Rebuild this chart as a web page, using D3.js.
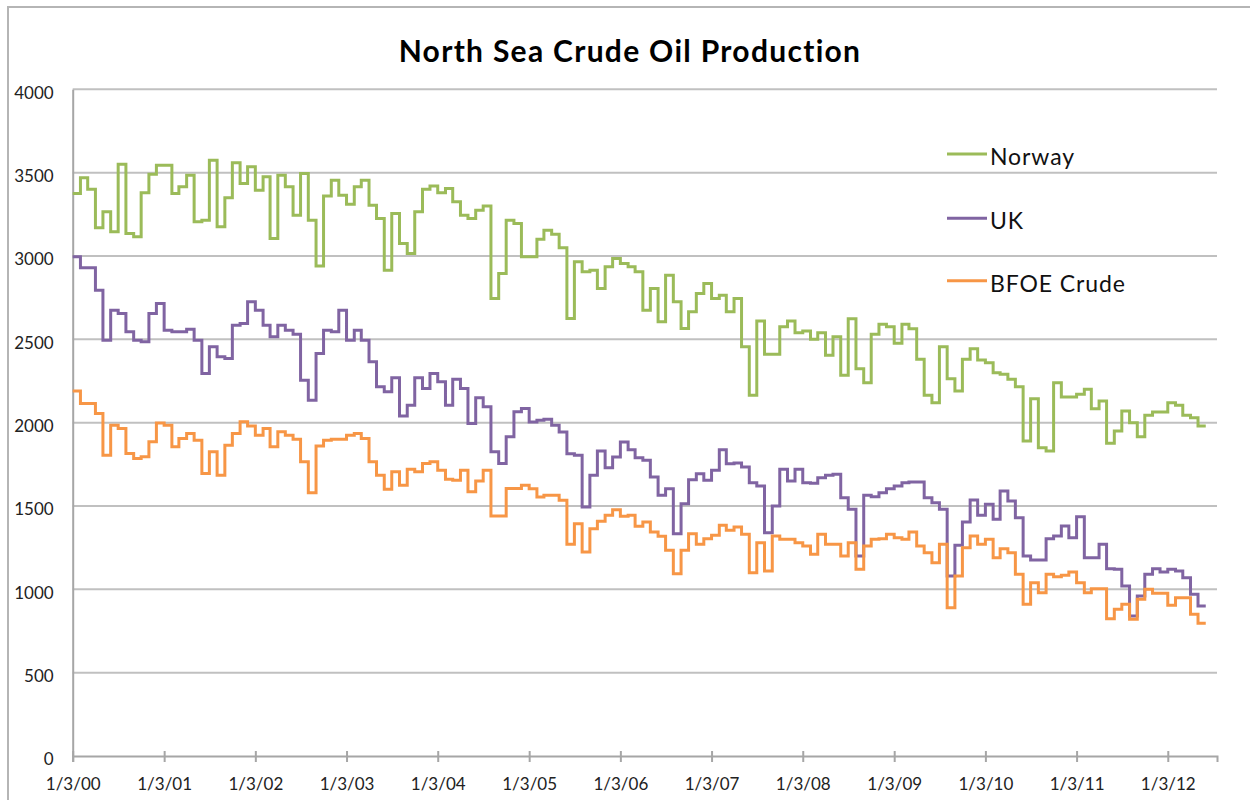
<!DOCTYPE html>
<html>
<head>
<meta charset="utf-8">
<script src="https://cdn.jsdelivr.net/npm/d3@7"></script>
<style>
  html, body { margin: 0; padding: 0; background: #fff; }
  svg { display: block; }
  text { font-family: Lato, "Open Sans", sans-serif; }
</style>
</head>
<body>
<svg id="chart" width="1250" height="800"></svg>
<script>
// ---- data (monthly, starting January 2000) ----
const startYear = 2000;
const seriesNames = ["Norway", "UK", "BFOE Crude"];
const seriesColors = ["#9bbb59", "#8064a2", "#f79646"];

const norway = [
  3375, 3470, 3400, 3170, 3265, 3145, 3550, 3135, 3115, 3380, 3490, 3545,
  3545, 3375, 3415, 3485, 3205, 3215, 3575, 3175, 3350, 3560, 3435, 3535,
  3395, 3475, 3105, 3485, 3415, 3245, 3495, 3215, 2940, 3360, 3455, 3365,
  3310, 3415, 3455, 3305, 3225, 2915, 3255, 3075, 3015, 3265, 3400, 3420,
  3380, 3405, 3325, 3245, 3225, 3275, 3300, 2745, 2895, 3215, 3195, 2995,
  2995, 3100, 3155, 3130, 3050, 2625, 2965, 2905, 2915, 2805, 2935, 2985,
  2955, 2935, 2905, 2675, 2805, 2605, 2885, 2725, 2565, 2665, 2775, 2835,
  2745, 2765, 2665, 2745, 2455, 2165, 2610, 2410, 2410, 2576, 2610, 2540,
  2550, 2500, 2540, 2404, 2516, 2284, 2624, 2324, 2240, 2530, 2590, 2576,
  2476, 2590, 2564, 2380, 2164, 2120, 2456, 2264, 2190, 2380, 2444, 2376,
  2360, 2300, 2290, 2260, 2216, 1890, 2144, 1850, 1830, 2240, 2154, 2154,
  2170, 2200, 2084, 2130, 1876, 1950, 2070, 2000, 1916, 2044, 2064, 2064,
  2120, 2104, 2044, 2030, 1980
];

const uk = [
  2995, 2930, 2930, 2795, 2495, 2675, 2655, 2545, 2495, 2485, 2655, 2715,
  2555, 2545, 2545, 2560, 2495, 2295, 2455, 2395, 2385, 2585, 2595, 2725,
  2675, 2585, 2515, 2585, 2555, 2530, 2255, 2135, 2415, 2555, 2545, 2675,
  2495, 2555, 2495, 2365, 2215, 2185, 2270, 2040, 2105, 2270, 2205, 2295,
  2245, 2105, 2260, 2205, 1995, 2150, 2095, 1825, 1755, 1915, 2065, 2085,
  2004, 2014, 2020, 1984, 1944, 1814, 1804, 1494, 1684, 1830, 1730, 1794,
  1884, 1838, 1790, 1774, 1674, 1564, 1604, 1334, 1514, 1658, 1694, 1654,
  1714, 1838, 1754, 1758, 1734, 1640, 1620, 1340, 1500, 1720, 1650, 1720,
  1640, 1636, 1670, 1684, 1690, 1550, 1480, 1200, 1564, 1556, 1580, 1604,
  1620, 1640, 1644, 1644, 1550, 1520, 1480, 1080, 1264, 1404, 1536, 1444,
  1510, 1420, 1590, 1530, 1430, 1200, 1176, 1176, 1304, 1320, 1380, 1310,
  1436, 1190, 1190, 1270, 1124, 1120, 1020, 840, 960, 1090, 1124, 1104,
  1120, 1110, 1070, 970, 900
];

const bfoe = [
  2190, 2115, 2115, 2055, 1805, 1985, 1965, 1815, 1785, 1795, 1885, 1998,
  1985, 1855, 1905, 1935, 1895, 1695, 1825, 1685, 1865, 1935, 2005, 1980,
  1925, 1965, 1855, 1945, 1925, 1900, 1765, 1580, 1860, 1895, 1900, 1900,
  1925, 1935, 1905, 1765, 1685, 1600, 1705, 1625, 1720, 1705, 1755, 1765,
  1715, 1660, 1655, 1715, 1585, 1650, 1715, 1440, 1440, 1605, 1605, 1625,
  1604, 1554, 1564, 1564, 1534, 1270, 1394, 1224, 1364, 1408, 1444, 1478,
  1438, 1444, 1378, 1404, 1344, 1318, 1234, 1094, 1234, 1334, 1270, 1304,
  1324, 1384, 1354, 1374, 1330, 1100, 1280, 1110, 1320, 1300, 1300, 1280,
  1260, 1210, 1330, 1270, 1270, 1200, 1280, 1120, 1260, 1300, 1304, 1330,
  1310, 1300, 1344, 1260, 1220, 1160, 1270, 890, 1080, 1250, 1320, 1270,
  1300, 1190, 1244, 1220, 1090, 910, 1040, 980, 1090, 1076, 1084, 1104,
  1040, 980, 1004, 1004, 824, 880, 910, 820, 940, 1000, 976, 976,
  904, 950, 950, 850, 796
];

const yTicks = [0, 500, 1000, 1500, 2000, 2500, 3000, 3500, 4000];
const xTickYears = [2000, 2001, 2002, 2003, 2004, 2005, 2006, 2007, 2008, 2009, 2010, 2011, 2012];
const titleText = "North Sea Crude Oil Production";

// ---- layout ----
const svg = d3.select("#chart");
const plotL = 72.7, plotR = 1217, plotT = 89.3, plotB = 756;

const x = d3.scaleTime()
  .domain([new Date(2000, 0, 3), new Date(2012, 6, 18)])
  .range([plotL, plotR]);
const y = d3.scaleLinear().domain([0, 4000]).range([plotB, plotT]);

// chart outer border (left & top visible)
svg.append("rect")
  .attr("x", 8).attr("y", 7).attr("width", 1300).attr("height", 900)
  .attr("fill", "none").attr("stroke", "#b5b5b5").attr("stroke-width", 2);

// title
svg.append("text")
  .attr("x", 630).attr("y", 62)
  .attr("text-anchor", "middle")
  .attr("font-size", 30).attr("font-weight", "bold")
  .attr("letter-spacing", 1.3)
  .attr("fill", "#000")
  .text(titleText);

// gridlines
svg.append("g").selectAll("line")
  .data(yTicks.filter(d => d > 0))
  .join("line")
  .attr("x1", plotL).attr("x2", plotR)
  .attr("y1", d => y(d)).attr("y2", d => y(d))
  .attr("stroke", "#c0c0c0").attr("stroke-width", 2);

// y axis
const yAxis = d3.axisLeft(y).tickValues(yTicks).tickSize(0).tickPadding(19).tickFormat(d3.format("d"));
const gy = svg.append("g").attr("transform", `translate(${plotL},0)`).call(yAxis);
gy.select(".domain").attr("stroke", "#a6a6a6").attr("stroke-width", 2);
gy.selectAll("text").attr("font-size", 17).attr("fill", "#222")
  .attr("font-family", "Lato, sans-serif").attr("dy", "0.52em");

// x axis
const xTicks = xTickYears.map(yr => new Date(yr, 0, 3));
const xAxis = d3.axisBottom(x).tickValues(xTicks).tickSize(6).tickPadding(16)
  .tickFormat(d3.timeFormat("%-m/%-d/%y"));
const gx = svg.append("g").attr("transform", `translate(0,${plotB})`).call(xAxis);
gx.select(".domain").attr("stroke", "#a6a6a6").attr("stroke-width", 2);
gx.selectAll(".tick line").attr("stroke", "#a6a6a6").attr("stroke-width", 2).attr("y1", -5);
gx.selectAll("text").attr("font-size", 17).attr("fill", "#222")
  .attr("font-family", "Lato, sans-serif");

// series
const allSeries = [norway, uk, bfoe];
const line = d3.line()
  .x(d => x(d.date))
  .y(d => y(d.value))
  .curve(d3.curveStepAfter);

allSeries.forEach((vals, i) => {
  const pts = vals.map((v, k) => ({ date: new Date(startYear, k, 3), value: v }));
  // hold last month's value to the end of that month
  pts.push({ date: new Date(startYear, vals.length, 3), value: vals[vals.length - 1] });
  svg.append("path")
    .datum(pts)
    .attr("d", line)
    .attr("fill", "none")
    .attr("stroke", seriesColors[i])
    .attr("stroke-width", 3)
    .attr("stroke-linejoin", "miter");
});

// legend
const legendY = [154, 218.3, 280.7];
const lg = svg.append("g");
seriesNames.forEach((name, i) => {
  lg.append("line")
    .attr("x1", 947).attr("x2", 987)
    .attr("y1", legendY[i]).attr("y2", legendY[i])
    .attr("stroke", seriesColors[i]).attr("stroke-width", 3);
  lg.append("text")
    .attr("x", 990).attr("y", legendY[i] + 11)
    .attr("font-size", 23).attr("letter-spacing", 0.9).attr("fill", "#111")
    .text(name);
});
</script>
</body>
</html>
